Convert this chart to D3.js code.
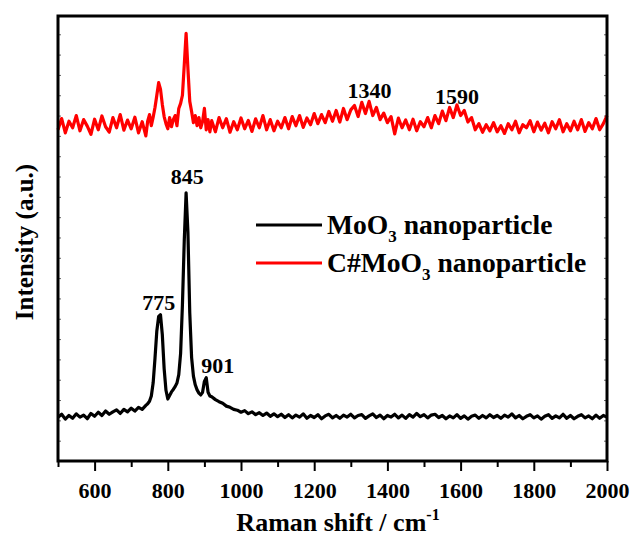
<!DOCTYPE html>
<html lang="en">
<head>
<meta charset="UTF-8"/>
<title>Raman spectra MoO3</title>
<script src="https://d3js.org/d3.v7.min.js"></script>
<style>
    body { margin: 0; background: #fff; }
    svg text { font-family: "Liberation Serif", "Times New Roman", serif; font-weight: bold; }
</style>
</head>
<body>
<script>

    // Raman shift sampling (cm-1), finer around the MoO3 bands
    var shift = [
        500, 510, 520, 530, 540, 550, 560, 570, 580, 590, 600, 610, 620, 630, 640, 650, 660, 670, 680, 690, 700, 710, 720, 730, 740,
        745, 750, 755, 760, 765, 770, 775, 780, 785, 790, 795, 800, 805, 810, 815, 820, 825, 830, 835, 840, 845, 850, 855, 860, 865,
        870, 875, 880, 885, 890, 895, 900, 905, 910, 915,
        920, 930, 940, 950, 960, 970, 980, 990, 1000, 1010, 1020, 1030, 1040, 1050, 1060, 1070, 1080, 1090, 1100,
        1110, 1120, 1130, 1140, 1150, 1160, 1170, 1180, 1190, 1200, 1210, 1220, 1230, 1240, 1250, 1260, 1270, 1280, 1290, 1300,
        1310, 1320, 1330, 1340, 1350, 1360, 1370, 1380, 1390, 1400, 1410, 1420, 1430, 1440, 1450, 1460, 1470, 1480, 1490, 1500,
        1510, 1520, 1530, 1540, 1550, 1560, 1570, 1580, 1590, 1600, 1610, 1620, 1630, 1640, 1650, 1660, 1670, 1680, 1690, 1700,
        1710, 1720, 1730, 1740, 1750, 1760, 1770, 1780, 1790, 1800, 1810, 1820, 1830, 1840, 1850, 1860, 1870, 1880, 1890, 1900,
        1910, 1920, 1930, 1940, 1950, 1960, 1970, 1980, 1990, 2000
    ];

    // MoO3 nanoparticle (black)
    var moo3 = [
        215, 230, 206, 224, 210, 232, 216, 226, 208, 234, 220, 240, 224, 246, 230, 242, 252, 234, 254, 242, 260, 246, 264, 254, 274,
        282, 294, 320, 385, 505, 640, 712, 720, 622, 455, 348, 305, 322, 340, 352, 366, 384, 425, 530, 770, 1085, 1320, 1125, 730, 510,
        418, 375, 350, 334, 325, 338, 392, 410, 338, 320,
        316, 302, 292, 284, 270, 264, 254, 250, 240, 248, 233, 242, 228, 238, 224, 236, 220, 232, 218,
        230, 214, 228, 212, 226, 216, 232, 210, 224, 214, 228, 208, 222, 230, 212, 224, 210, 226, 216, 230,
        212, 224, 228, 210, 222, 232, 214, 226, 208, 224, 216, 230, 212, 226, 210, 228, 216, 234, 218, 228,
        212, 226, 230, 214, 224, 208, 222, 212, 228, 210, 222, 206, 220, 226, 210, 224, 212, 228, 214, 224,
        210, 226, 216, 232, 212, 224, 208, 220, 228, 212, 222, 206, 220, 228, 210, 222, 212, 230, 210, 224,
        208, 220, 228, 212, 222, 208, 226, 210, 224, 216
    ];

    // C#MoO3 nanoparticle (red)
    var cmoo3 = [
        1630, 1685, 1615, 1672, 1640, 1700, 1625, 1680, 1648, 1608, 1682, 1630, 1698, 1645, 1618, 1690, 1640, 1705, 1628, 1678, 1635, 1692, 1615, 1670, 1600,
        1672, 1705, 1650, 1692, 1740, 1800, 1862, 1830, 1755, 1695, 1660, 1635, 1690, 1645, 1680, 1700, 1650, 1735, 1760, 1800, 1950, 2105, 1930, 1770, 1720,
        1665, 1700, 1650, 1690, 1640, 1670, 1735, 1630, 1680, 1620,
        1675, 1620, 1690, 1640, 1685, 1618, 1670, 1630, 1688, 1635, 1676, 1622, 1684, 1640, 1700, 1630, 1680, 1625, 1672,
        1640, 1690, 1635, 1695, 1650, 1700, 1642, 1688, 1655, 1710, 1660, 1705, 1665, 1720, 1672, 1725, 1668, 1735, 1680, 1728,
        1750, 1695, 1765, 1710, 1770, 1700, 1740, 1680, 1712, 1665, 1695, 1610, 1688, 1640, 1678, 1630, 1682, 1625, 1670, 1645,
        1690, 1640, 1700, 1660, 1722, 1675, 1740, 1690, 1752, 1700, 1725, 1668, 1690, 1630, 1660, 1618, 1655, 1625, 1665, 1620,
        1650, 1612, 1660, 1630, 1672, 1615, 1655, 1640, 1675, 1620, 1668, 1628, 1662, 1615, 1670, 1635, 1680, 1620, 1660, 1625,
        1672, 1630, 1680, 1622, 1665, 1635, 1685, 1630, 1660, 1700
    ];

    var majorTicks = [600, 800, 1000, 1200, 1400, 1600, 1800, 2000];
    var minorTicks = [500, 700, 900, 1100, 1300, 1500, 1700, 1900];
    var peakLabels = ["845", "775", "901", "1340", "1590"];
    var peakShift = [845, 775, 901, 1340, 1590];
    var seriesNames = ["MoO3 nanoparticle", "C#MoO3 nanoparticle"];
    var seriesColors = ["#000000", "#ff0000"];

    var w = 632;
    var h = 541;
    var padL = 58, padR = 607, padT = 16, padB = 461;

    var xScale = d3.scaleLinear()
                .domain([500, 2000])
                .range([padL, padR]);

    var yScale = d3.scaleLinear()
                .domain([0, 2190])
                .range([padB, padT]);

    var svg = d3.select("body")
                .append("svg")
                .attr("width", w)
                .attr("height", h);

    // small inner ticks on left and right
    var yTicks = d3.range(100, 2101, 100);
    svg.append("g")
        .attr("transform", "translate(" + padL + ",0)")
        .call(d3.axisRight(yScale).tickValues(yTicks).tickSize(3).tickFormat(""))
        .call(function(g) { g.select(".domain").remove(); g.selectAll("line").attr("stroke", "#666"); });
    svg.append("g")
        .attr("transform", "translate(" + padR + ",0)")
        .call(d3.axisLeft(yScale).tickValues(yTicks).tickSize(3).tickFormat(""))
        .call(function(g) { g.select(".domain").remove(); g.selectAll("line").attr("stroke", "#666"); });

    // x axis
    var xMajor = svg.append("g")
        .attr("transform", "translate(0," + padB + ")")
        .call(d3.axisBottom(xScale).tickValues(majorTicks).tickSize(10).tickFormat(d3.format("d")));
    xMajor.select(".domain").remove();
    xMajor.selectAll("line").attr("stroke-width", 2);
    xMajor.selectAll("text")
        .attr("y", 37)
        .attr("dy", 0)
        .attr("font-size", 22)
        .attr("fill", "#000");

    var xMinor = svg.append("g")
        .attr("transform", "translate(0," + padB + ")")
        .call(d3.axisBottom(xScale).tickValues(minorTicks).tickSize(6).tickFormat(""));
    xMinor.select(".domain").remove();
    xMinor.selectAll("line").attr("stroke-width", 2);

    // spectra
    var line = d3.line()
                .x(function(d) { return xScale(d[0]); })
                .y(function(d) { return yScale(d[1]); });

    [moo3, cmoo3].forEach(function(vals, i) {
        svg.append("path")
            .datum(shift.map(function(s, j) { return [s, vals[j]]; }))
            .attr("fill", "none")
            .attr("stroke", seriesColors[i])
            .attr("stroke-width", 3.2)
            .attr("stroke-linejoin", "round")
            .attr("d", line);
    });

    // frame
    svg.append("rect")
        .attr("x", padL)
        .attr("y", padT)
        .attr("width", padR - padL)
        .attr("height", padB - padT)
        .attr("fill", "none")
        .attr("stroke", "#000")
        .attr("stroke-width", 3);

    // peak labels
    var labelDx = [3, 0, 13, 4, 0];
    var labelY = [184, 310, 373, 98, 104];
    svg.selectAll(".peak")
        .data(peakLabels)
        .enter()
        .append("text")
        .attr("class", "peak")
        .attr("x", function(d, i) { return xScale(peakShift[i]) + labelDx[i]; })
        .attr("y", function(d, i) { return labelY[i]; })
        .attr("text-anchor", "middle")
        .attr("font-size", 22)
        .text(function(d) { return d; });

    // legend
    seriesNames.forEach(function(name, i) {
        var ly = 225 + i * 38;
        svg.append("line")
            .attr("x1", 256).attr("x2", 322)
            .attr("y1", ly).attr("y2", ly)
            .attr("stroke", seriesColors[i])
            .attr("stroke-width", 3);
        var t = svg.append("text")
            .attr("x", 327)
            .attr("y", ly + 9)
            .attr("font-size", 27.6);
        var parts = name.split("3");
        t.append("tspan").text(parts[0]);
        t.append("tspan").attr("dy", 8).attr("font-size", 17).text("3");
        t.append("tspan").attr("dy", -8).text(parts[1]);
    });

    // axis titles
    var xt = svg.append("text")
        .attr("x", 338)
        .attr("y", 531)
        .attr("text-anchor", "middle")
        .attr("font-size", 26);
    xt.append("tspan").text("Raman shift / cm");
    xt.append("tspan").attr("dy", -11).attr("font-size", 16).text("-1");

    svg.append("text")
        .attr("transform", "rotate(-90)")
        .attr("x", -242)
        .attr("y", 33)
        .attr("text-anchor", "middle")
        .attr("font-size", 25)
        .text("Intensity (a.u.)");

</script>
</body>
</html>
